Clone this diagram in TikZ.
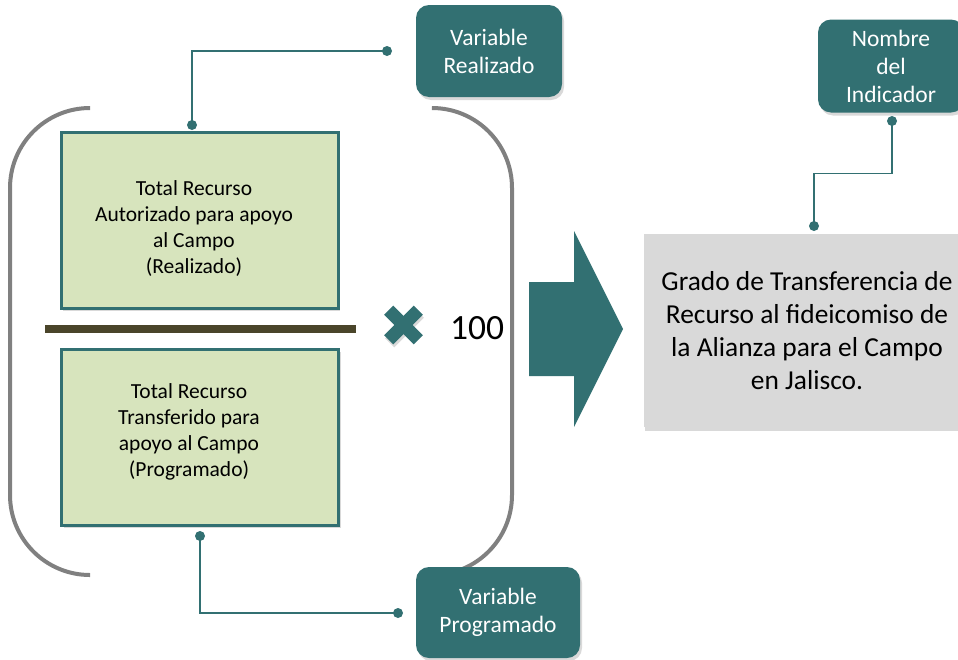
\documentclass[tikz,border=0pt]{standalone}
\usepackage{fontspec}
\setmainfont{Carlito}
\usepackage{tikz}
\usetikzlibrary{calc, shadows}
\definecolor{TEAL}{HTML}{327072}
\definecolor{GREENBOX}{HTML}{D7E4BD}
\definecolor{GREYBOX}{HTML}{D9D9D9}
\definecolor{PAREN}{HTML}{808080}
\definecolor{BAR}{HTML}{4A452A}

\begin{document}
\begin{tikzpicture}[x=1pt, y=-1pt,
    tag/.style={fill=TEAL, text=white, rounded corners=13pt, align=center,
        font=\fontsize{23.5}{28}\selectfont,
        drop shadow={shadow xshift=2pt, shadow yshift=-3pt, opacity=.3}},
    term/.style={fill=GREENBOX, draw=TEAL, line width=3pt, align=center,
        minimum width=277, minimum height=176,
        drop shadow={shadow xshift=2pt, shadow yshift=-3pt, opacity=.3}},
    termtext/.style={font=\fontsize{21.5}{26}\selectfont, align=center},
    dot/.style={circle, fill=TEAL, inner sep=0pt, minimum size=10pt},
    link/.style={TEAL, line width=1.8pt},
    paren/.style={PAREN, line width=4pt, rounded corners=80pt}]
    \useasboundingbox (0,0) rectangle (958,659);
    \clip (0,0) rectangle (958,659);

    % brackets
    \draw[paren] (89,108) -| (10,575) -- (89,575);
    \draw[paren] (434,108) -| (512,575) -- (434,575);

    % numerator and denominator
    \node[term] (realizado) at (199.5,220) {};
    \node[termtext] at (194,229) {Total Recurso\\Autorizado para apoyo\\al Campo\\(Realizado)};
    \node[term] (programado) at (200,437) {};
    \node[termtext] at (189,432) {Total Recurso\\Transferido para\\apoyo al Campo\\(Programado)};
    \draw[BAR, line width=8pt] (45,329) -- (356,329);

    % times 100
    \node[fill=TEAL, minimum width=42, minimum height=13, inner sep=0pt, rotate=45,
        drop shadow={shadow xshift=1pt, shadow yshift=-3pt, opacity=.3}] (crossA) at (403.5,325) {};
    \node[fill=TEAL, minimum width=42, minimum height=13, inner sep=0pt, rotate=-45] (crossB) at (403.5,325) {};
    \node[font=\fontsize{35.5}{40}\selectfont] (cien) at (477,328) {100};

    % big arrow
    \fill[TEAL] (529,282) -- (574,282) -- (574,231) -- (623,329) -- (574,427)
        -- (574,376) -- (529,376) -- cycle;

    % result
    \node[fill=GREYBOX, minimum width=326, minimum height=193, align=center,
        font=\fontsize{27.4}{33}\selectfont,
        drop shadow={shadow xshift=1pt, shadow yshift=-4pt, opacity=.3}] (grado) at (807,330.5)
        {Grado de Transferencia de\\Recurso al fideicomiso de\\la Alianza para el Campo\\en Jalisco.};

    % labels
    \node[tag, minimum width=146, minimum height=92] (varR) at (489,51) {Variable\\Realizado};
    \node[tag, minimum width=164, minimum height=91] (varP) at (498,612.5) {Variable\\Programado};
    \node[tag, minimum width=146, minimum height=93] (nombre) at (891,66) {Nombre\\del\\Indicador};

    % connectors
    \node[dot] (d1) at (192,125) {};
    \node[dot] (d2) at (387,51) {};
    \draw[link] (d1.center) |- (d2.center);
    \node[dot] (d3) at (200,536) {};
    \node[dot] (d4) at (398,613) {};
    \draw[link] (d3.center) |- (d4.center);
    \node[dot] (d5) at (892,121) {};
    \node[dot] (d6) at (814,226) {};
    \draw[link] (d5.center) |- ($(d5)!.5!(d6)$) -| (d6.center);
\end{tikzpicture}
\end{document}
